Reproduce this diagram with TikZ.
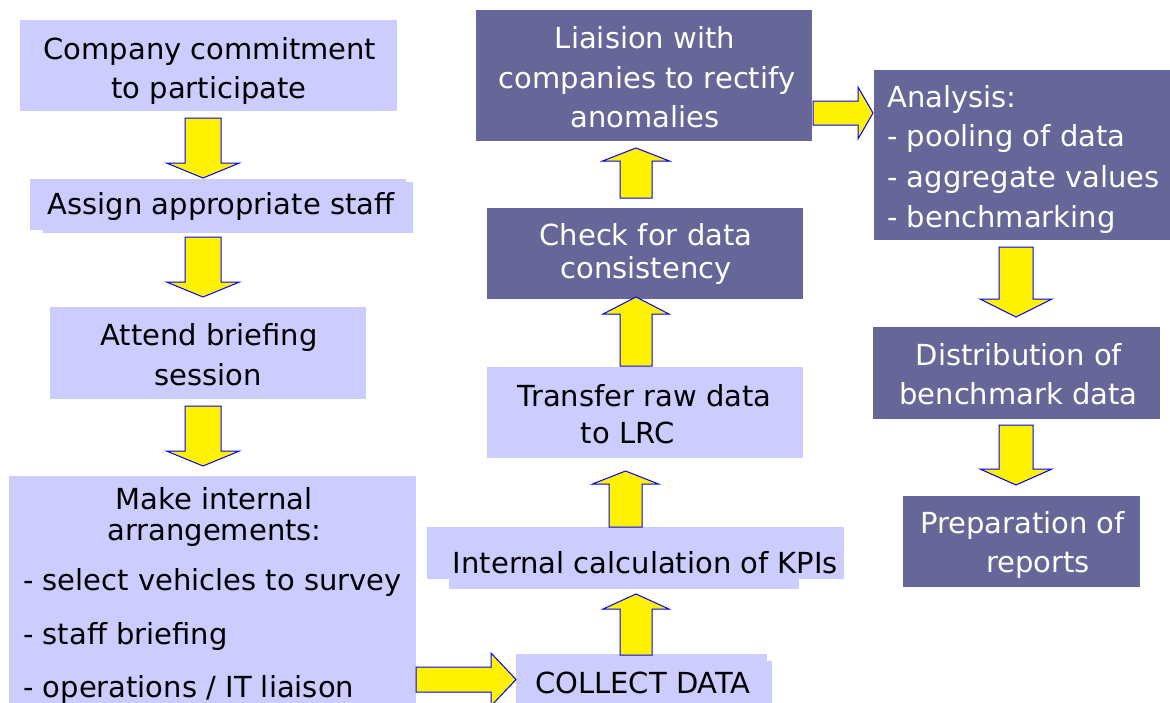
\documentclass[tikz,border=0pt]{standalone}
\usepackage{fontspec}
\setmainfont{DejaVu Sans}

\definecolor{boxlight}{HTML}{CCCCFF}
\definecolor{boxdark}{HTML}{666699}

\tikzset{
  lbox/.style={fill=boxlight, inner sep=0pt, rectangle},
  dbox/.style={fill=boxdark, inner sep=0pt, rectangle},
  lbl/.style={anchor=base, inner sep=0pt, text=black},
  wlbl/.style={anchor=base, inner sep=0pt, text=white},
  blockarrow/.style={fill=yellow, draw=blue, line width=1pt, line join=miter}
}

% vertical block arrow: centre x, tail y, head-base y, tip y, half shaft, half head
\newcommand\vblock[6]{%
  \draw[blockarrow] ({#1-#5},#2) -- ({#1+#5},#2) -- ({#1+#5},#3) -- ({#1+#6},#3)
    -- (#1,#4) -- ({#1-#6},#3) -- ({#1-#5},#3) -- cycle;}
% horizontal block arrow: centre y, tail x, head-base x, tip x, half shaft, half head
\newcommand\hblock[6]{%
  \draw[blockarrow] (#2,{#1-#5}) -- (#2,{#1+#5}) -- (#3,{#1+#5}) -- (#3,{#1+#6})
    -- (#4,#1) -- (#3,{#1-#6}) -- (#3,{#1-#5}) -- cycle;}

\begin{document}
\begin{tikzpicture}[x=1pt, y=-1pt,
  every node/.style={font=\fontsize{29}{35}\selectfont}]
\useasboundingbox (0,0) rectangle (1170,702);
\clip (0,0) rectangle (1170,702);

% ---------- left column ----------
\node[lbox, minimum width=377, minimum height=91] (commit) at (208.5,65.5) {};
\node[lbl] (commit1) at (210,59) {Company commitment};
\node[lbl] (commit2) at (209,98) {to participate};

\fill[boxlight] (43,182) rectangle (413,233);
\node[lbox, minimum width=376, minimum height=51] (assign) at (218,204.5) {};
\node[lbl] (assign1) at (221,214) {Assign appropriate staff};

\node[lbox, minimum width=316, minimum height=92] (brief) at (208,353) {};
\node[lbl] (brief1) at (209,345) {Attend briefing};
\node[lbl] (brief2) at (208,385) {session};

\node[lbox, minimum width=407, minimum height=234] (arrange) at (212.5,593) {};
\node[lbl] (arrange1) at (214,509) {Make internal};
\node[lbl] (arrange2) at (214.5,540) {arrangements:};
\node[lbl, anchor=base west] (arrange3) at (23,590) {- select vehicles to survey};
\node[lbl, anchor=base west] (arrange4) at (23,644) {- staff briefing};
\node[lbl, anchor=base west] (arrange5) at (23,697) {- operations / IT liaison};

% ---------- middle column ----------
\fill[boxlight] (520,661) rectangle (772,710);
\node[lbox, minimum width=251, minimum height=56] (collect) at (641.5,682) {};
\node[lbl] (collect1) at (643,693) {COLLECT DATA};

\fill[boxlight] (449,540) rectangle (799,589);
\node[lbox, minimum width=417, minimum height=52] (kpi) at (635.5,553) {};
\node[lbl] (kpi1) at (645.5,573) {Internal calculation of KPIs};

\node[lbox, minimum width=316, minimum height=91] (transfer) at (645,412.5) {};
\node[lbl] (transfer1) at (644.5,406) {Transfer raw data};
\node[lbl] (transfer2) at (627.5,443) {to LRC};

\node[dbox, minimum width=316, minimum height=91] (check) at (645,253.5) {};
\node[wlbl] (check1) at (646,245) {Check for data};
\node[wlbl] (check2) at (646,278) {consistency};

\node[dbox, minimum width=336, minimum height=131] (liaise) at (644,75.5) {};
\node[wlbl] (liaise1) at (645,48) {Liaision with};
\node[wlbl] (liaise2) at (647,88) {companies to rectify};
\node[wlbl] (liaise3) at (645,127) {anomalies};

% ---------- right column ----------
\node[dbox, minimum width=301, minimum height=170] (analysis) at (1024.5,155) {};
\node[wlbl, anchor=base west] (analysis1) at (887,107) {Analysis:};
\node[wlbl, anchor=base west] (analysis2) at (887,146) {- pooling of data};
\node[wlbl, anchor=base west] (analysis3) at (887,187) {- aggregate values};
\node[wlbl, anchor=base west] (analysis4) at (887,227) {- benchmarking};

\node[dbox, minimum width=287, minimum height=92] (distrib) at (1016.5,373) {};
\node[wlbl] (distrib1) at (1019,365) {Distribution of};
\node[wlbl] (distrib2) at (1018.5,404) {benchmark data};

\node[dbox, minimum width=237, minimum height=91] (prep) at (1021.5,541.5) {};
\node[wlbl] (prep1) at (1022.5,533) {Preparation of};
\node[wlbl] (prep2) at (1038,572) {reports};

% ---------- block arrows ----------
\vblock{203}{118}{163}{178}{18}{36.5}
\vblock{203}{237}{282}{297}{18}{36.5}
\vblock{203}{406}{451}{466}{18}{36.5}

\hblock{679.5}{416}{491}{516}{12.5}{26.5}

\vblock{636}{655}{609}{594}{16}{33}
\vblock{625.5}{527}{484}{471}{16.5}{33}
\vblock{636}{366}{314}{297}{16}{33}
\vblock{636}{198}{161}{148}{16}{33.5}

\hblock{113}{813}{858}{873}{12}{26}

\vblock{1016}{247}{299}{317}{17}{36}
\vblock{1016}{425}{469}{485}{17}{36}
\end{tikzpicture}
\end{document}
